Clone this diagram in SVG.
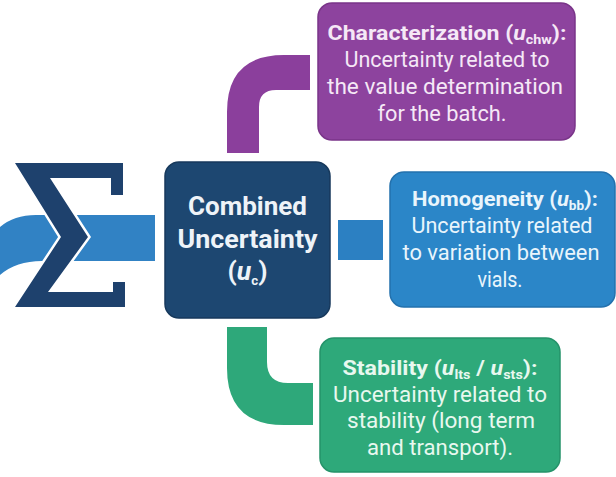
<svg xmlns="http://www.w3.org/2000/svg" width="616" height="477" viewBox="0 0 616 477">
  <style>
    .box-title { font-family: Roboto, "Liberation Sans", sans-serif; font-weight: 700; font-size: 21px; }
    .box-text { font-family: Roboto, "Liberation Sans", sans-serif; font-weight: 400; font-size: 22px; }
    .center-text { font-family: Roboto, "Liberation Sans", sans-serif; font-weight: 700; font-size: 26px; fill: #eef3f8; }
    .sub { font-size: 13px; }
    .it { font-style: italic; }
  </style>
  <rect width="616" height="477" fill="#ffffff"/>

  <!-- connectors -->
  <g id="connectors">
    <!-- incoming band behind the sum symbol -->
    <path d="M0,227 Q14,215 36,215 H155 V261 H42 Q16,261 0,275 Z" fill="#3182c4"/>
    <!-- to characterization -->
    <path d="M227,153 V112 Q227,55 284,55 H310 V90 H276 Q259,90 259,107 V153 Z" fill="#8b3f9c"/>
    <!-- to homogeneity -->
    <rect x="338" y="220" width="45" height="40" fill="#2c80c2"/>
    <!-- to stability -->
    <path d="M227,327 H267 V362 Q267,383 288,383 H313 V425 H284 Q227,425 227,368 Z" fill="#2ea87a"/>
  </g>

  <!-- sum symbol -->
  <g id="sum-symbol">
    <path d="M15,163 H123 V195 H111 V178 H50 L88,237 L48,292 H113 V282 H125 V307 H15 L61,237 Z"
          fill="#1e416d" stroke="#ffffff" stroke-width="5" stroke-linejoin="miter" paint-order="stroke"/>
  </g>

  <!-- combined uncertainty -->
  <g id="combined">
    <rect x="165" y="162" width="165" height="156" rx="14" fill="#1d4771" stroke="#17395c" stroke-width="1.5"/>
    <text class="center-text" x="247.5" y="215" text-anchor="middle" textLength="119" lengthAdjust="spacingAndGlyphs">Combined</text>
    <text class="center-text" x="247.5" y="248" text-anchor="middle" textLength="140" lengthAdjust="spacingAndGlyphs">Uncertainty</text>
    <text class="center-text" x="247.5" y="280" text-anchor="middle" textLength="40" lengthAdjust="spacingAndGlyphs">(<tspan class="it">u</tspan><tspan class="sub" dy="5">c</tspan><tspan dy="-5">)</tspan></text>
  </g>

  <!-- characterization -->
  <g id="characterization">
    <rect x="318" y="3" width="257" height="137" rx="14" fill="#8d439e" stroke="#7a3589" stroke-width="1.5"/>
    <g fill="#f5e8f6" text-anchor="middle">
      <text class="box-title" x="447" y="40" textLength="239" lengthAdjust="spacingAndGlyphs">Characterization (<tspan class="it">u</tspan><tspan class="sub" dy="4">chw</tspan><tspan dy="-4">):</tspan></text>
      <text class="box-text" x="447" y="67" textLength="205" lengthAdjust="spacingAndGlyphs">Uncertainty related to</text>
      <text class="box-text" x="445" y="94" textLength="236" lengthAdjust="spacingAndGlyphs">the value determination</text>
      <text class="box-text" x="442" y="121" textLength="129" lengthAdjust="spacingAndGlyphs">for the batch.</text>
    </g>
  </g>

  <!-- homogeneity -->
  <g id="homogeneity">
    <rect x="390" y="172" width="225" height="135" rx="14" fill="#2b86c8" stroke="#2371ad" stroke-width="1.5"/>
    <g fill="#e9f5fc" text-anchor="middle">
      <text class="box-title" x="505" y="206" textLength="186" lengthAdjust="spacingAndGlyphs">Homogeneity (<tspan class="it">u</tspan><tspan class="sub" dy="4">bb</tspan><tspan dy="-4">):</tspan></text>
      <text class="box-text" x="502" y="233" textLength="181" lengthAdjust="spacingAndGlyphs">Uncertainty related</text>
      <text class="box-text" x="501" y="260" textLength="197" lengthAdjust="spacingAndGlyphs">to variation between</text>
      <text class="box-text" x="500" y="287" textLength="45" lengthAdjust="spacingAndGlyphs">vials.</text>
    </g>
  </g>

  <!-- stability -->
  <g id="stability">
    <rect x="320" y="338" width="240" height="134" rx="14" fill="#2ea97a" stroke="#25936a" stroke-width="1.5"/>
    <g fill="#e8f8ef" text-anchor="middle">
      <text class="box-title" x="440" y="375" textLength="195" lengthAdjust="spacingAndGlyphs">Stability (<tspan class="it">u</tspan><tspan class="sub" dy="4">lts</tspan><tspan dy="-4"> / </tspan><tspan class="it">u</tspan><tspan class="sub" dy="4">sts</tspan><tspan dy="-4">):</tspan></text>
      <text class="box-text" x="440" y="402" textLength="214" lengthAdjust="spacingAndGlyphs">Uncertainty related to</text>
      <text class="box-text" x="441" y="428" textLength="188" lengthAdjust="spacingAndGlyphs">stability (long term</text>
      <text class="box-text" x="440" y="455" textLength="146" lengthAdjust="spacingAndGlyphs">and transport).</text>
    </g>
  </g>
</svg>
